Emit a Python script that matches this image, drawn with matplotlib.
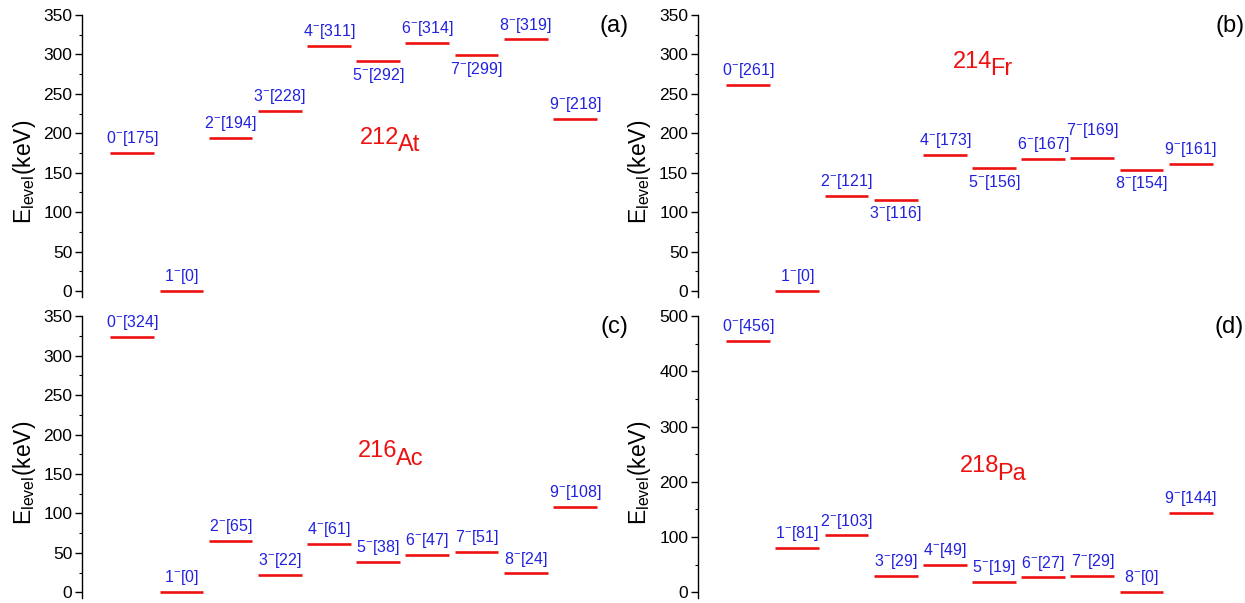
import matplotlib
matplotlib.use("Agg")
import matplotlib.pyplot as plt
import numpy as np

plt.rcParams["font.family"] = ["Liberation Sans", "DejaVu Sans"]
plt.rcParams["mathtext.fontset"] = "custom"
plt.rcParams["mathtext.rm"] = "Liberation Sans"
plt.rcParams["mathtext.it"] = "Liberation Sans:italic"
plt.rcParams["mathtext.bf"] = "Liberation Sans:bold"

# ============================
# DATA
# ============================

spins = list(range(10))

e_212at = [175, 0, 194, 228, 311, 292, 314, 299, 319, 218]
e_214fr = [261, 0, 121, 116, 173, 156, 167, 169, 154, 161]
e_216ac = [324, 0, 65, 22, 61, 38, 47, 51, 24, 108]
e_218pa = [456, 81, 103, 29, 49, 19, 27, 29, 0, 144]

nuclei = [("212", "At"), ("214", "Fr"), ("216", "Ac"), ("218", "Pa")]
panel_tags = ["(a)", "(b)", "(c)", "(d)"]

# ============================
# LAYOUT
# ============================

# which labels go under the level, which get lifted higher
below = [[5, 7], [3, 5, 8], [], []]
lifted = [[], [7], [], []]
ytops = [350, 350, 350, 500]
name_pos = [(5.44, 187), (4.97, 283), (5.4, 171), (5.1, 218)]

RED = "#ee1111"
BLUE = "#2222dd"

fig = plt.figure(figsize=(12.45, 6.03), dpi=100)
boxes = [
    [0.0659, 0.5075, 0.4361, 0.4677],
    [0.5606, 0.5075, 0.4361, 0.4677],
    [0.0659, 0.0078, 0.4361, 0.4677],
    [0.5606, 0.0078, 0.4361, 0.4677],
]

all_levels = [e_212at, e_214fr, e_216ac, e_218pa]

for i, levels in enumerate(all_levels):
    ax = fig.add_axes(boxes[i])
    ax.hlines(levels, np.array(spins) - 0.445, np.array(spins) + 0.445,
              color=RED, linewidth=1.9)

    for j, (s, e) in enumerate(zip(spins, levels)):
        txt = r"%d$^{\mathrm{-}}$[%d]" % (s, e)
        if j in below[i]:
            off, va = -3.5, "top"
        elif j in lifted[i]:
            off, va = 13, "bottom"
        else:
            off, va = 3.5, "bottom"
        ax.annotate(txt, (s, e), xytext=(0, off), textcoords="offset points",
                    ha="center", va=va, color=BLUE, fontsize=11.5)

    mass, elem = nuclei[i]
    nx, ny = name_pos[i]
    ax.text(nx, ny, mass, color=RED, fontsize=17, ha="right", va="baseline")
    ax.annotate(elem, (nx, ny), xytext=(-1.5, -5.5), textcoords="offset points",
                color=RED, fontsize=17, ha="left", va="baseline")

    ax.text(1.006, 1.0, panel_tags[i], transform=ax.transAxes,
            ha="right", va="top", fontsize=17)

    top = ytops[i]
    ax.set_xlim(-1.02, 10.02)
    ax.set_ylim(-top * 0.0217, top)
    step = 50 if top == 350 else 100
    ax.set_yticks(np.arange(0, top + 1, step))
    ax.set_yticks(np.arange(0, top + 1, step / 2), minor=True)
    ax.set_xticks([])

    for side in ["top", "right", "bottom"]:
        ax.spines[side].set_visible(False)
    ax.spines["left"].set_linewidth(1.0)
    ax.tick_params(axis="y", which="major", direction="out", length=5,
                   width=1.0, labelsize=12.5, pad=2)
    ax.tick_params(axis="y", which="minor", direction="out", length=2.5, width=0.8)

    ax.set_ylabel(r"E$_{\mathrm{level}}$(keV)", fontsize=16.5)
    ax.yaxis.set_label_coords(-0.082, 0.445)

plt.savefig("out.png", dpi=100)
